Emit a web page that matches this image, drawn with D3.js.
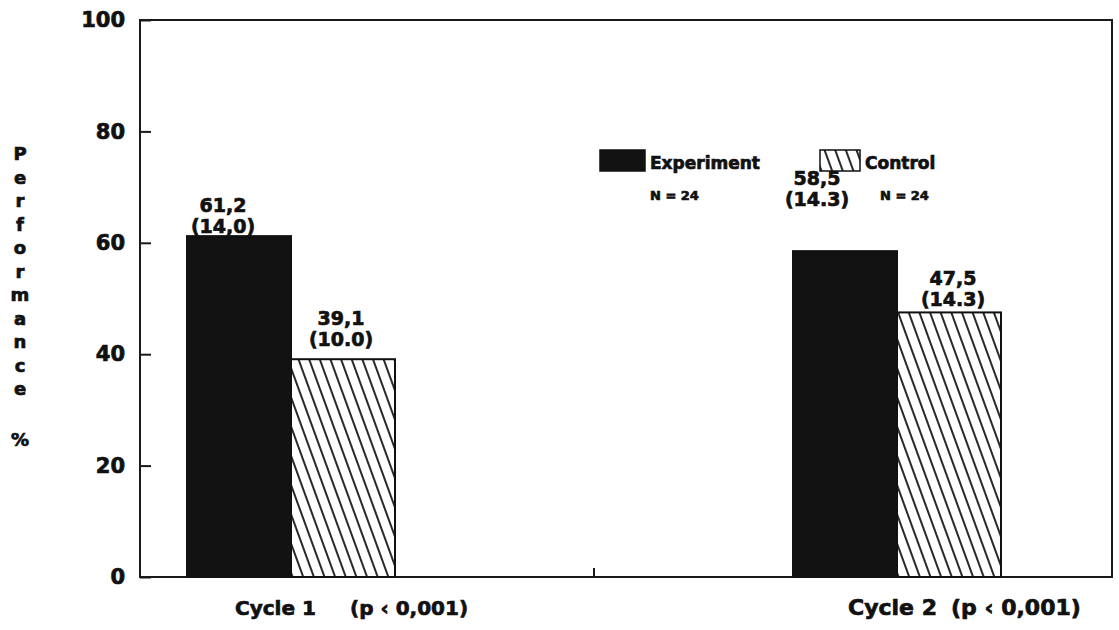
<!DOCTYPE html>
<html>
<head>
<meta charset="utf-8">
<script src="https://cdn.jsdelivr.net/npm/d3@7"></script>
<style>
  body { margin: 0; background: #fff; }
  svg { display: block; }
  text { font-family: "DejaVu Sans", sans-serif; font-weight: bold; fill: #111; stroke: #111; stroke-width: 0.7px; }
</style>
</head>
<body>
<svg id="chart"></svg>
<script>
// chart data
const categories = ["Cycle 1", "Cycle 2"];
const series = ["Experiment", "Control"];
const experimentValues = [61.2, 58.5];
const controlValues = [39.1, 47.5];
const experimentLabels = ["61,2", "58,5"];
const experimentSd = ["(14,0)", "(14.3)"];
const controlLabels = ["39,1", "47,5"];
const controlSd = ["(10.0)", "(14.3)"];
const pLabels = ["(p \u2039 0,001)", "(p \u2039 0,001)"];
const legendN = ["N = 24", "N = 24"];
const yTicks = [0, 20, 40, 60, 80, 100];
const yTitle = "Performance";

const margin = { top: 20, right: 7, bottom: 53, left: 140 };
const width = 1119 - margin.left - margin.right;
const height = 630 - margin.top - margin.bottom;

const root = d3.select("#chart").attr("width", 1119).attr("height", 630);

// hatch pattern for the control bars
const defs = root.append("defs");
const hatch = defs.append("pattern")
    .attr("id", "hatch")
    .attr("patternUnits", "userSpaceOnUse")
    .attr("width", 10).attr("height", 10)
    .attr("patternTransform", "rotate(-20)");
hatch.append("rect").attr("width", 10).attr("height", 10).attr("fill", "#fff");
hatch.append("line").attr("x1", 1).attr("x2", 1).attr("y1", 0).attr("y2", 10)
    .attr("stroke", "#111").attr("stroke-width", 1.8);

const svg = root.append("g").attr("transform", `translate(${margin.left},${margin.top})`);

// scales
const y = d3.scaleLinear().domain([0, 100]).range([height, 0]);
const x0 = d3.scalePoint().domain(categories).range([151, 757]);
const x1 = d3.scaleBand().domain(series).range([-104, 104]).padding(0);

// frame
svg.append("rect")
    .attr("width", width).attr("height", height)
    .attr("fill", "none").attr("stroke", "#1a1a1a").attr("stroke-width", 2);

// y axis with inward ticks
const yAxis = svg.append("g")
    .call(d3.axisLeft(y).tickValues(yTicks).tickSizeInner(-11).tickSizeOuter(0).tickPadding(15));
yAxis.select(".domain").remove();
yAxis.selectAll(".tick line").attr("stroke", "#1a1a1a").attr("stroke-width", 2);
yAxis.selectAll(".tick text").attr("font-size", 21).attr("fill", "#111");

// middle tick on the bottom axis
const midX = (x0(categories[0]) + x0(categories[1])) / 2;
svg.append("line")
    .attr("x1", midX).attr("x2", midX)
    .attr("y1", height).attr("y2", height - 9)
    .attr("stroke", "#1a1a1a").attr("stroke-width", 2);

// bars
const rows = categories.map((c, i) => ({
    cat: c,
    bars: [
        { key: "Experiment", value: experimentValues[i], label: experimentLabels[i], sd: experimentSd[i] },
        { key: "Control", value: controlValues[i], label: controlLabels[i], sd: controlSd[i] }
    ]
}));

const groups = svg.selectAll(".group")
    .data(rows)
    .enter().append("g")
    .attr("class", "group")
    .attr("transform", d => `translate(${x0(d.cat)},0)`);

groups.selectAll("rect")
    .data(d => d.bars)
    .enter().append("rect")
    .attr("x", d => x1(d.key))
    .attr("y", d => y(d.value))
    .attr("width", x1.bandwidth())
    .attr("height", d => height - y(d.value))
    .attr("fill", d => d.key === "Experiment" ? "#121212" : "url(#hatch)")
    .attr("stroke", "#111")
    .attr("stroke-width", 2);

// value labels (mean and sd) above each bar
const labelOffsets = {
    "Cycle 1|Experiment": { dx: -16, dy: -24 },
    "Cycle 1|Control": { dx: -2, dy: -34 },
    "Cycle 2|Experiment": { dx: -28, dy: -66 },
    "Cycle 2|Control": { dx: 4, dy: -27 }
};
rows.forEach(r => {
    r.bars.forEach(b => {
        const off = labelOffsets[`${r.cat}|${b.key}`];
        const cx = x0(r.cat) + x1(b.key) + x1.bandwidth() / 2 + off.dx;
        const ty = y(b.value) + off.dy;
        svg.append("text").attr("x", cx).attr("y", ty)
            .attr("text-anchor", "middle").attr("font-size", 19).text(b.label);
        svg.append("text").attr("x", cx).attr("y", ty + 21)
            .attr("text-anchor", "middle").attr("font-size", 19).text(b.sd);
    });
});

// category labels with p-values
const xLabelPos = [{ name: -56, p: 59, size: 20 }, { name: -49, p: 54, size: 22 }];
categories.forEach((c, i) => {
    svg.append("text")
        .attr("x", x0(c) + xLabelPos[i].name).attr("y", height + 38)
        .attr("font-size", xLabelPos[i].size).text(c);
    svg.append("text")
        .attr("x", x0(c) + xLabelPos[i].p).attr("y", height + 38)
        .attr("font-size", xLabelPos[i].size).text(pLabels[i]);
});

// legend
const legend = svg.append("g").attr("transform", "translate(460,130)");
series.forEach((s, i) => {
    const lx = i * 220;
    legend.append("rect")
        .attr("x", lx).attr("y", 0)
        .attr("width", i === 0 ? 45 : 40).attr("height", 21)
        .attr("fill", i === 0 ? "#121212" : "url(#hatch)")
        .attr("stroke", "#111").attr("stroke-width", 1.5);
    legend.append("text")
        .attr("x", lx + (i === 0 ? 50 : 45)).attr("y", 19)
        .attr("font-size", 17).text(s);
    legend.append("text")
        .attr("x", lx + (i === 0 ? 50 : 60)).attr("y", 50)
        .attr("font-size", 13).text(legendN[i]);
});

// vertical stacked y title
const title = root.append("g");
yTitle.split("").forEach((ch, i) => {
    title.append("text")
        .attr("x", 20).attr("y", 160 + i * 23.5)
        .attr("text-anchor", "middle").attr("font-size", 18).text(ch);
});
title.append("text")
    .attr("x", 20).attr("y", 446)
    .attr("text-anchor", "middle").attr("font-size", 18).text("%");
</script>
</body>
</html>
